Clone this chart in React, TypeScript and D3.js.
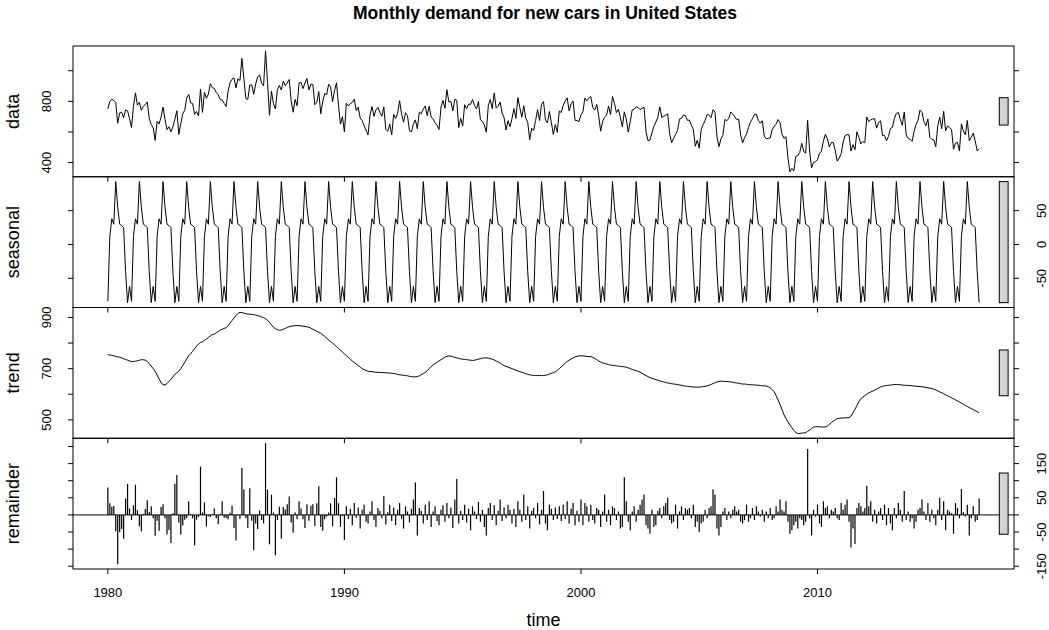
import React from "react";
import * as d3 from "d3";

const chartTitle = "Monthly demand for new cars in United States";
const panelLabels = ["data", "seasonal", "trend", "remainder"];
const startYear = 1980;

// STL periodic seasonal component, Jan..Dec
const seasonalPattern = [-84, 12, 38, 30, 93, 55, 30, 28, 25, -40, -86, -62];

// trend component, monthly from Jan 1980 to Nov 2016
const trendValues = [
  755, 753, 752, 750, 748, 746, 745, 742, 739, 736, 733, 730,
  728, 728, 729, 731, 733, 735, 735, 733, 728, 720, 710, 700,
  690, 675, 660, 645, 638, 636, 642, 650, 658, 668, 678, 684,
  690, 700, 712, 725, 738, 750, 758, 768, 778, 788, 796, 802,
  805, 810, 816, 822, 828, 833, 835, 840, 845, 850, 854, 857,
  860, 868, 878, 888, 898, 908, 916, 920, 919, 917, 915, 913,
  913, 912, 911, 909, 907, 905, 902, 899, 895, 889, 881, 871,
  862, 856, 852, 850, 851, 854, 857, 861, 864, 866, 867, 868,
  868, 868, 867, 866, 865, 863, 862, 858, 854, 850, 846, 842,
  838, 832, 826, 819, 812, 806, 800, 793, 786, 779, 772, 765,
  758, 751, 744, 737, 730, 724, 718, 712, 706, 700, 696, 693,
  690, 689, 688, 687, 686, 686, 685, 685, 684, 684, 683, 683,
  682, 681, 680, 677, 676, 675, 674, 673, 672, 670, 669,
  668, 668, 669, 672, 677, 681, 685, 692, 700, 708, 715, 720,
  725, 730, 735, 740, 745, 748, 750, 749, 747, 744, 742, 740,
  738, 737, 736, 735, 734, 733, 732, 733, 735, 737, 739, 741,
  742, 742, 741, 739, 737, 734, 730, 726, 722, 717, 712, 709,
  706, 703, 700, 697, 694, 691, 688, 686, 683, 680, 678, 676,
  674, 674, 673, 673, 673, 673, 673, 674, 676, 679, 682, 685,
  688, 693, 700, 707, 714, 721, 728, 733, 738, 742, 746, 748,
  750, 750, 750, 749, 748, 747, 747, 744, 740, 735, 730, 726,
  722, 720, 718, 716, 714, 713, 712, 711, 710, 709, 708, 707,
  706, 703, 700, 697, 694, 692, 690, 686, 682, 677, 673, 669,
  665, 662, 660, 657, 655, 652, 650, 648, 646, 644, 643, 641,
  640, 639, 638, 636, 635, 633, 632, 631, 630, 629, 628,
  628, 628, 628, 629, 630, 631, 632, 635, 638, 642, 645, 648,
  650, 651, 651, 650, 650, 649, 648, 647, 645, 644, 643, 641,
  640, 640, 639, 638, 637, 637, 636, 636, 635, 634, 633, 633,
  632, 630, 625, 618, 610, 595, 578, 560, 540, 520, 505, 492,
  480, 469, 459, 450, 447, 447, 448, 449, 450, 455, 460, 466,
  472, 473, 473, 473, 472, 472, 472, 476, 482, 489, 495, 500,
  505, 506, 507, 507, 508, 508, 508, 515, 527, 541, 556, 570,
  583, 589, 595, 600, 605, 609, 612, 616, 620, 624, 628, 631,
  633, 634, 635, 636, 637, 638, 638, 638, 637, 636, 635, 635,
  634, 634, 633, 632, 631, 631, 630, 629, 628, 627, 625, 624,
  622, 620, 617, 613, 609, 606, 602, 598, 594, 590, 586, 582,
  578, 574, 570, 565, 561, 556, 552, 548, 544, 540, 536, 532,
  528,
];

// remainder component, monthly from Jan 1980
const remainderValues = [
  80, 34, 24, 26, -48, -144, -51, -41, -70, 48, 91, 19,
  -15, 28, 88, 14, -33, -48, 3, 17, 43, 8, 25, -10,
  -61, -17, -46, 23, 31, -10, -57, -44, -82, 5, 91, 117,
  -22, -57, -31, -14, -10, 40, 2, -10, -89, -14, -6, 141,
  7, 37, -34, -4, -6, 2, 19, -10, -27, 2, 40, -8,
  -10, -13, 6, 27, -38, -75, 2, -12, 137, 74, -10, -38,
  78, -17, -103, -25, -41, 13, -15, -25, 210, 74, -86, 59,
  7, -118, -15, 24, -70, 23, 16, 31, 54, -22, -52, 7,
  -13, 40, 19, -13, -38, 31, -17, 27, 31, -32, 34, 84,
  -35, -46, -13, -5, 7, 34, -33, 50, 110, 34, -35, -3,
  -73, 25, -12, 18, -30, 35, -8, 22, -40, 15, 30, -20,
  -25, 10, 40, -15, -35, 20, 12, -10, 55, -28, 8, 30,
  -18, 22, -30, 15, 35, -12, -40, 25, 10, -22, 18, 45,
  95, -60, 20, 12, -25, 30, -15, 40, -35, 10, 25, -18,
  -30, 15, 28, -20, 35, -10, 22, -38, 45, 105, -25, 12,
  -15, 30, -22, 18, -45, 25, 10, -12, 38, -20, 15, -35,
  -60, 20, 35, -15, 28, -30, 12, 45, -18, 22, -10, 30, 15,
  -25, 18, -35, 40, 15, -20, 60, -15, 25, -40, 12, 20,
  -10, 35, -28, 15, 70, -25, -45, 30, 18, -15, 22, -12,
  25, -18, 30, -12, 40, -25, 18, 35, -30, 12, -20, 45,
  -30, 35, 25, -20, 30, -15, -25, 20, 15, -35, 10, 60,
  -20, 15, -30, 25, 20, -15, 10, -40, -35, 110, 40, -20,
  -45, 10, 25, -20, 15, 30, 45, 60, -30, -40, -55, 15,
  -35, -30, 12, 20, -10, 25, 35, 50, -15, -25, -20, 30,
  -40, 10, 25, -15, 20, 15, 20, -10, 30, -35, -20, -50,
  -25, -20, 15, -10, 20, 25, 75, 60, -40, -60, -35, 10,
  20, -15, 10, -10, 15, 25, 10, 15, -20, -25, -15, 30,
  -20, -10, 20, -15, 25, 10, -5, 15, -20, 10, -10, 20,
  -15, -10, 25, 10, 45, 15, 10, 40, -20, -55, -45, -30,
  -20, -40, -10, -15, -30, -20, 193, -10, -60, 15, -5, 30,
  -25, -35, 40, 20, 25, -10, 15, 10, 20, -10, -15, 35,
  15, 30, 45, -20, -95, -40, -85, 20, 35, 25, 10, 20,
  85, 25, 40, -20, 15, -25, 10, 20, -15, 30, -30, 20,
  -25, -45, 20, -10, 35, 15, -20, 70, -15, 10, -20, -10,
  -40, -20, 15, 20, 45, 10, -15, 35, -20, 15, -10,
  -30, 15, 50, -15, 40, -45, 15, 10, 5, -55, 35, 20,
  -10, 76, 8, -5, 30, -60, -10, 25, -20, -15, 48,
];

const xTickYears = [1980, 1990, 2000, 2010];
const yTicks = [
  [400, 600, 800, 1000],
  [-50, 0, 50],
  [500, 600, 700, 800, 900],
  [-150, -100, -50, 0, 50, 100, 150, 200],
];
const leftTickLabels = [[400, 800], [], [500, 700, 900], []];
const rightTickLabels = [[], [-50, 0, 50], [], [-150, -50, 50, 150]];

const W = 1049;
const H = 630;
const PL = 73;
const PR = 1014;
const PT = 46;
const PB = 569;
const FONT = "'Liberation Sans', Arial, Helvetica, sans-serif";

export default function App() {
  const n = Math.min(remainderValues.length, trendValues.length);
  const time = d3.range(n).map((i) => startYear + i / 12);
  const seasonal = time.map((_, i) => seasonalPattern[i % 12]);
  const trend = time.map((_, i) => trendValues[i]);
  const remainder = time.map((_, i) => remainderValues[i]);
  const data = time.map((_, i) => trend[i] + seasonal[i] + remainder[i]);
  const series = [data, seasonal, trend, remainder];

  const t0 = time[0];
  const t1 = time[n - 1];
  const tExt = (t1 - t0) * 0.04;
  const x = d3.scaleLinear().domain([t0 - tExt, t1 + tExt]).range([PL, PR]);

  const ranges = series.map((s) => d3.extent(s) as [number, number]);
  const mx = d3.min(ranges, (r) => r[1] - r[0]) as number;
  const dx = (PR - PL) / 64;

  const ph = (PB - PT) / 4;

  return (
    <svg
      width={W}
      height={H}
      style={{ position: "absolute", left: 0, top: 0, background: "#fff" }}
      fontFamily={FONT}
    >
      <rect x={0} y={0} width={W} height={H} fill="#fff" />
      <text x={545} y={19} textAnchor="middle" fontWeight="bold" fontSize={17.5} fill="#000">
        {chartTitle}
      </text>
      {series.map((s, i) => {
        const y0 = PT + i * ph;
        const y1 = y0 + ph;
        const [lo, hi] = ranges[i];
        const ext = (hi - lo) * 0.04;
        const y = d3.scaleLinear().domain([lo - ext, hi + ext]).range([y1, y0]);
        const isLast = i === series.length - 1;
        const line = d3
          .line<number>()
          .x((_, k) => x(time[k]))
          .y((v) => y(v));
        const mid = (lo + hi) / 2;
        return (
          <g key={i}>
            {isLast ? (
              <g stroke="#000" strokeWidth={1.2}>
                {s.map((v, k) => (
                  <line key={k} x1={x(time[k])} x2={x(time[k])} y1={y(0)} y2={y(v)} />
                ))}
                <line x1={PL} x2={PR} y1={y(0)} y2={y(0)} strokeWidth={1} />
              </g>
            ) : (
              <path d={line(s) || ""} fill="none" stroke="#000" strokeWidth={1} />
            )}
            <rect
              x={PR - dx}
              width={dx * 0.6}
              y={y(mid + mx / 2)}
              height={y(mid - mx / 2) - y(mid + mx / 2)}
              fill="#d3d3d3"
              stroke="#000"
              strokeWidth={1}
            />
            <rect x={PL} y={y0} width={PR - PL} height={ph} fill="none" stroke="#000" strokeWidth={1} />
            {yTicks[i].map((t) => (
              <g key={t} stroke="#000" strokeWidth={1}>
                <line x1={PL - 5} x2={PL} y1={y(t)} y2={y(t)} />
                <line x1={PR} x2={PR + 5} y1={y(t)} y2={y(t)} />
              </g>
            ))}
            {leftTickLabels[i].map((t) => (
              <text
                key={"l" + t}
                transform={`translate(${PL - 22},${y(t)}) rotate(-90)`}
                textAnchor="middle"
                fontSize={13}
                fill="#000"
              >
                {t}
              </text>
            ))}
            {rightTickLabels[i].map((t) => (
              <text
                key={"r" + t}
                transform={`translate(${PR + 32},${y(t)}) rotate(-90)`}
                textAnchor="middle"
                fontSize={13}
                fill="#000"
              >
                {t}
              </text>
            ))}
            {xTickYears.map((yr) => (
              <line key={yr} x1={x(yr)} x2={x(yr)} y1={y1} y2={y1 + 5} stroke="#000" strokeWidth={1} />
            ))}
            <text
              transform={`translate(${19},${(y0 + y1) / 2}) rotate(-90)`}
              textAnchor="middle"
              fontSize={18}
              fill="#000"
            >
              {panelLabels[i]}
            </text>
          </g>
        );
      })}
      {xTickYears.map((yr) => (
        <text key={yr} x={x(yr)} y={597} textAnchor="middle" fontSize={13} fill="#000">
          {yr}
        </text>
      ))}
      <text x={(PL + PR) / 2} y={626} textAnchor="middle" fontSize={18} fill="#000">
        time
      </text>
    </svg>
  );
}
